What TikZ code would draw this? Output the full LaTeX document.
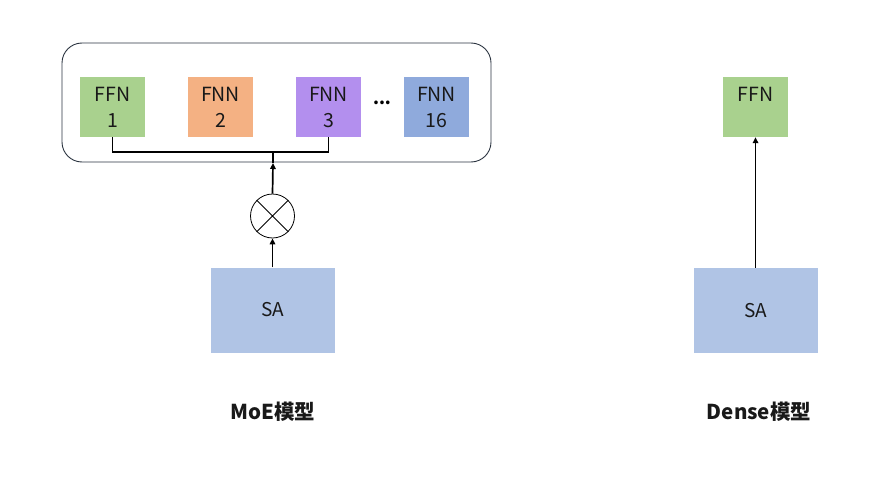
\documentclass[tikz,border=0pt]{standalone}
\usepackage{fontspec}
\setmainfont{Noto Sans CJK SC}
\usetikzlibrary{arrows.meta}
\definecolor{cgreen}{HTML}{A9D18E}
\definecolor{corange}{HTML}{F4B183}
\definecolor{cpurple}{HTML}{B38FEE}
\definecolor{cblue}{HTML}{8FAADC}
\definecolor{csa}{HTML}{B0C4E5}
\definecolor{cframe}{HTML}{2B3440}
\begin{document}
\begin{tikzpicture}[x=1pt,y=-1pt,
  expert/.style={rectangle, minimum width=65pt, minimum height=60pt, inner sep=0pt,
    align=center, font=\fontsize{19.5}{26}\selectfont, text=black!90},
  sabox/.style={rectangle, fill=csa, minimum width=124pt, minimum height=85pt, inner sep=0pt,
    font=\fontsize{19}{22}\selectfont, text=black!90},
  conn/.style={line width=1.7pt, black},
  arr/.style={conn, -{Triangle[length=6pt,width=5.5pt]}},
  title/.style={font=\bfseries\fontsize{20.5}{24}\selectfont, text=black!90}]
\useasboundingbox (0,0) rectangle (889,479);

% MoE frame
\draw[cframe, line width=0.9pt, rounded corners=20pt] (62,43) rectangle (491,162);
\node[expert, fill=cgreen] (f1) at (112.5,107) {FFN\\1};
\node[expert, fill=corange] (f2) at (220.5,107) {FNN\\2};
\node[expert, fill=cpurple] (f3) at (328.5,107) {FNN\\3};
\node[font=\bfseries\fontsize{17}{18}\selectfont] (dots) at (382,103) {...};
\node[expert, fill=cblue] (f16) at (436.5,107) {FNN\\16};

\coordinate (j) at (273,152);
\coordinate (jb) at (273,163);
\draw[conn] (f1.south) |- (j) -| (f3.south);
\draw[conn] (j) -- (jb);

% gate
\node[circle, draw, line width=0.8pt, minimum size=44pt, inner sep=0pt] (g) at (272.5,216) {};
\draw[line width=0.8pt] (g.north east) -- (g.south west) (g.north west) -- (g.south east);
\draw[arr] (g.north) -- (jb);

\node[sabox] (sa1) at (272.5,310) {SA};
\draw[arr] (sa1.north) -- (g.south);

\node[title] (t1) at (273,412) {MoE模型};

% Dense
\node[expert, fill=cgreen] (fd) at (755.5,107) {FFN\\\mbox{}};
\node[sabox] (sa2) at (755.5,310.5) {SA};
\draw[arr] (sa2.north) -- (fd.south);
\node[title] (t2) at (759,412) {Dense模型};
\end{tikzpicture}
\end{document}
